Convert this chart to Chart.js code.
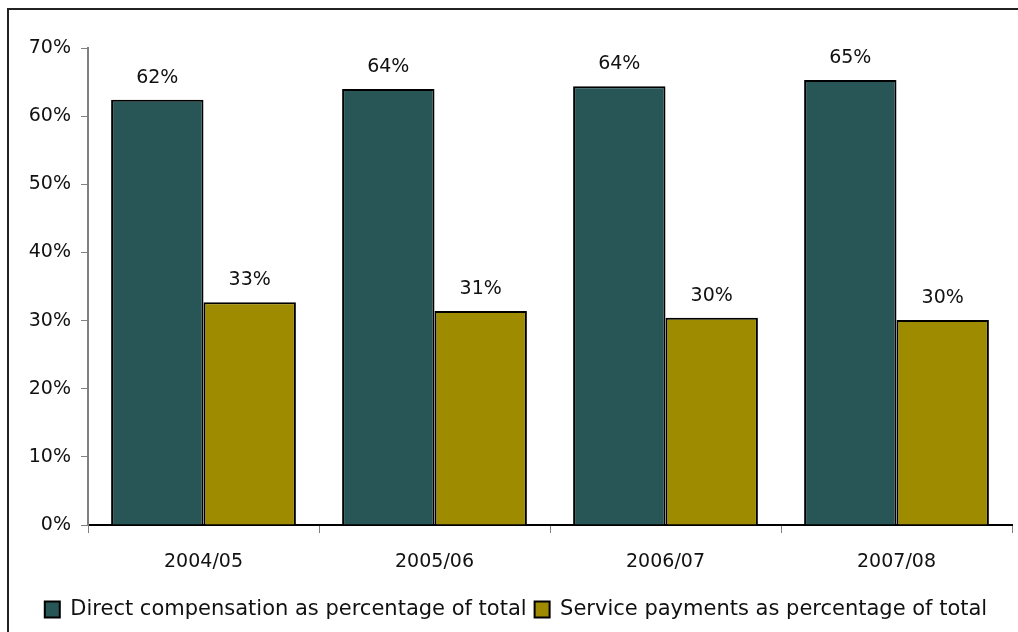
<!DOCTYPE html>
<html>
<head>
<meta charset="utf-8">
<script src="https://cdn.jsdelivr.net/npm/chart.js@4/dist/chart.umd.min.js"></script>
<style>
  html, body { margin: 0; padding: 0; background: #fff; }
  #wrap { width: 1018px; height: 632px; }
</style>
</head>
<body>
<div id="wrap"><canvas id="myChart" width="1018" height="632"></canvas></div>
<script>
const years = ["2004/05", "2005/06", "2006/07", "2007/08"];
const directComp = [62.4, 64.0, 64.4, 65.3];
const servicePay = [32.7, 31.4, 30.4, 30.1];
const yTicks = [0, 10, 20, 30, 40, 50, 60, 70];

const fontFamily = "'DejaVu Sans', sans-serif";

// contour noir autour du graphique
const frame = {
    id: 'frame',
    beforeDraw: (chart) => {
        const c = chart.ctx;
        c.save();
        c.strokeStyle = '#222';
        c.lineWidth = 2;
        c.strokeRect(8, 9, 1100, 700);
        c.restore();
    }
};

// etiquettes au-dessus des barres
const barLabels = {
    id: 'barLabels',
    afterDatasetsDraw: (chart) => {
        const c = chart.ctx;
        c.save();
        c.font = "19px " + fontFamily;
        c.fillStyle = '#111';
        c.textAlign = 'center';
        c.textBaseline = 'middle';
        chart.data.datasets.forEach((ds, i) => {
            chart.getDatasetMeta(i).data.forEach((el, j) => {
                c.fillText(Math.round(ds.data[j]) + '%', el.x, el.y - 22);
            });
        });
        c.restore();
    }
};

const ctx = document.getElementById('myChart').getContext('2d');

new Chart(ctx, {
    type: 'bar',
    data: {
        labels: years,
        datasets: [{
            label: "Direct compensation as percentage of total",
            data: directComp,
            backgroundColor: "#285555",
            borderColor: "#000",
            borderWidth: 2,
        }, {
            label: "Service payments as percentage of total",
            data: servicePay,
            backgroundColor: "#9F8B00",
            borderColor: "#000",
            borderWidth: 2,
        }]
    },
    options: {
        responsive: false,
        animation: false,
        layout: { padding: { left: 20, right: 6, top: 48, bottom: 2 } },
        datasets: { bar: { categoryPercentage: 0.8, barPercentage: 1.0 } },
        plugins: {
            tooltip: { enabled: false },
            legend: {
                position: 'bottom',
                labels: {
                    color: '#111',
                    font: { family: fontFamily, size: 21 },
                    boxWidth: 15,
                    boxHeight: 16,
                    padding: 8,
                }
            }
        },
        scales: {
            x: {
                afterFit: (s) => { s.height = 66; },
                grid: { display: true, drawOnChartArea: false, color: '#808080', tickLength: 8, offset: true },
                border: { color: '#000', width: 2 },
                ticks: { color: '#111', font: { family: fontFamily, size: 19 }, padding: 18 }
            },
            y: {
                min: 0,
                max: 70,
                afterFit: (s) => { s.width = 68; },
                afterBuildTicks: (s) => { s.ticks = yTicks.map(v => ({ value: v })); },
                grid: { display: true, drawOnChartArea: false, color: '#808080', tickLength: 7 },
                border: { color: '#808080', width: 2 },
                ticks: { color: '#111', font: { family: fontFamily, size: 19 }, padding: 10, callback: (v) => v + '%' }
            }
        }
    },
    plugins: [frame, barLabels]
});
</script>
</body>
</html>
